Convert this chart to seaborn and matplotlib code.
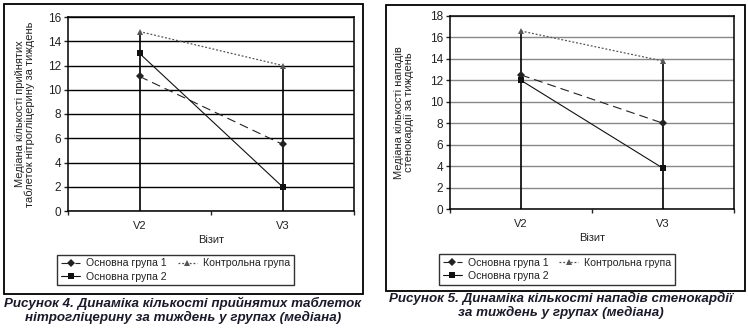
import matplotlib
matplotlib.use("Agg")
import matplotlib.pyplot as plt
from matplotlib.patches import Rectangle
import seaborn as sns
import pandas as pd

visits = ["V2", "V3"]
series_names = ["Основна група 1", "Основна група 2", "Контрольна група"]

# Chart 1: nitroglycerin tablets per week (median)
nitro_g1 = [11.1, 5.5]
nitro_g2 = [13.0, 2.0]
nitro_ctrl = [14.8, 12.0]

# Chart 2: angina attacks per week (median)
angina_g1 = [12.5, 8.0]
angina_g2 = [12.0, 3.8]
angina_ctrl = [16.6, 13.8]

ylabel1 = "Медіана кількості прийнятих\nтаблеток нітрогліцерину за тиждень"
ylabel2 = "Медіана кількості нападів\nстенокардії за тиждень"
caption1 = "Рисунок 4. Динаміка кількості прийнятих таблеток\nнітрогліцерину за тиждень у групах (медіана)"
caption2 = "Рисунок 5. Динаміка кількості нападів стенокардії\nза тиждень у групах (медіана)"
xlabel = "Візит"

sns.set_style("white")
plt.rcParams["font.family"] = ["Liberation Sans Narrow", "Liberation Sans", "DejaVu Sans"]

W, H = 748, 333
fig = plt.figure(figsize=(W / 100, H / 100), dpi=100)


def px_rect(x0, y0, x1, y1):
    return [x0 / W, 1 - y1 / H, (x1 - x0) / W, (y1 - y0) / H]


styles = {
    "Основна група 1": dict(color="#222222", marker="D", markersize=4.0, linestyle=(0, (8, 4.5)), linewidth=0.8),
    "Основна група 2": dict(color="#111111", marker="s", markersize=4.6, linestyle="-", linewidth=0.8),
    "Контрольна група": dict(color="#555555", marker="^", markersize=4.6, linestyle=(0, (1.5, 1.5)), linewidth=0.9),
}


def draw(axrect, frame, legrect, g1, g2, ctrl, ymax, ylabel, grid_color, ylab_x, caption, cap_xy):
    fig.add_artist(Rectangle((frame[0], frame[1]), frame[2], frame[3], transform=fig.transFigure,
                             fill=False, edgecolor="black", linewidth=1.3))
    ax = fig.add_axes(axrect)
    df = pd.DataFrame({
        "visit": visits * 3,
        "value": g1 + g2 + ctrl,
        "group": [series_names[0]] * 2 + [series_names[1]] * 2 + [series_names[2]] * 2,
    })
    # drop lines from the highest point of each visit down to zero
    tops = df.groupby("visit", sort=False)["value"].max()
    for i, v in enumerate(visits):
        ax.vlines(i, 0, tops[v], color="black", linewidth=1.2, zorder=2)
    for name in series_names:
        sub = df[df["group"] == name]
        st = styles[name]
        sns.lineplot(data=sub, x="visit", y="value", ax=ax, color=st["color"], marker=st["marker"],
                     markersize=st["markersize"], markeredgewidth=0, linestyle=st["linestyle"],
                     linewidth=st["linewidth"], label=name, zorder=3, legend=False)
    ax.set_xlim(-0.5, 1.5)
    ax.set_ylim(0, ymax)
    ax.set_yticks(range(0, ymax + 1, 2))
    ax.yaxis.grid(True, color=grid_color, linewidth=1.0)
    ax.set_axisbelow(True)
    ax.set_xticks([0, 1])
    ax.set_xticklabels(visits)
    ax.set_xticks([-0.5, 0.5, 1.5], minor=True)
    ax.tick_params(axis="x", which="major", length=0, labelsize=8, pad=7, colors="#222222")
    ax.tick_params(axis="x", which="minor", length=3, width=1, direction="out", bottom=True)
    ax.tick_params(axis="y", length=3, width=1, direction="out", left=True, labelsize=8.5, pad=2, colors="#222222")
    for lab in ax.get_yticklabels() + ax.get_xticklabels():
        lab.set_family(["Liberation Sans", "DejaVu Sans"])
    for s in ax.spines.values():
        s.set_color("black")
        s.set_linewidth(1.1)
    ax.set_xlabel(xlabel, fontsize=8, labelpad=3, color="#222222")
    ax.set_ylabel("")
    fig.text(ylab_x, axrect[1] + axrect[3] / 2, ylabel, rotation=90, ha="center", va="center",
             fontsize=8, linespacing=1.05, color="#222222")
    handles, labels = ax.get_legend_handles_labels()
    order = [labels.index(n) for n in series_names]
    leg = fig.legend([handles[i] for i in order], [labels[i] for i in order], ncol=2,
                     loc="center", bbox_to_anchor=(legrect[0] + legrect[2] / 2, legrect[1] + legrect[3] / 2),
                     bbox_transform=fig.transFigure, fontsize=7.6, frameon=True, fancybox=False,
                     handlelength=1.8, handletextpad=0.6, columnspacing=1.0, labelspacing=0.3,
                     borderpad=0.35)
    leg.get_frame().set_edgecolor("black")
    leg.get_frame().set_linewidth(1.0)
    for t in leg.get_texts():
        t.set_color("#222222")
    fig.text(cap_xy[0], cap_xy[1], caption, ha="center", va="top", fontsize=9.6, fontweight="bold",
             style="italic", family=["Liberation Sans", "DejaVu Sans"], color="#1a1a2a", linespacing=1.1)
    return ax


draw(px_rect(68, 17, 354, 211), px_rect(4, 4, 363, 294), px_rect(57, 253, 294, 287),
     nitro_g1, nitro_g2, nitro_ctrl, 16, ylabel1, "black", 25 / W, caption1, (183 / W, 1 - 297 / H))
draw(px_rect(450, 16, 734, 209), px_rect(386, 5, 745, 291), px_rect(437, 253, 677, 286),
     angina_g1, angina_g2, angina_ctrl, 18, ylabel2, "#888888", 404 / W, caption2, (561 / W, 1 - 292 / H))

fig.savefig("out.png", dpi=100)
